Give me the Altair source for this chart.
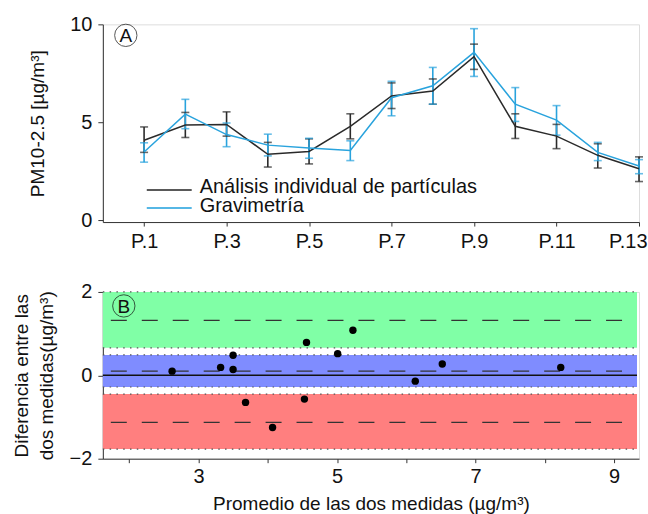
import altair as alt
import pandas as pd

# ---------------- data ----------------
sites = ["P.1", "P.2", "P.3", "P.4", "P.5", "P.6", "P.7", "P.8", "P.9", "P.10", "P.11", "P.12", "P.13"]
site_idx = list(range(1, 14))
series_names = ["Análisis individual de partículas", "Gravimetría"]

indiv_mean = [4.08, 4.86, 4.89, 3.36, 3.51, 4.79, 6.34, 6.59, 8.35, 4.79, 4.29, 3.31, 2.62]
indiv_lo = [3.46, 4.22, 4.29, 2.71, 2.87, 4.15, 5.70, 5.92, 7.70, 4.17, 3.65, 2.66, 1.97]
indiv_hi = [4.76, 5.50, 5.53, 3.97, 4.15, 5.43, 7.01, 7.21, 8.99, 5.43, 4.89, 3.90, 3.23]

grav_mean = [3.48, 5.41, 4.37, 3.83, 3.68, 3.56, 6.25, 6.86, 8.57, 5.92, 5.11, 3.46, 2.76]
grav_lo = [2.96, 4.67, 3.75, 3.28, 3.16, 3.04, 5.33, 5.92, 7.34, 5.04, 4.34, 3.04, 2.37]
grav_hi = [3.95, 6.17, 4.96, 4.39, 4.18, 4.05, 7.09, 7.80, 9.78, 6.77, 5.85, 3.97, 3.09]

ba_mean = [2.62, 3.32, 3.50, 3.50, 3.68, 4.07, 4.56, 4.53, 5.01, 5.23, 6.13, 6.52, 8.23]
ba_diff = [0.10, 0.19, 0.48, 0.14, -0.65, -1.25, 0.79, -0.57, 0.52, 1.08, -0.14, 0.27, 0.19]

band_lo = [0.66, -0.28, -1.77]
band_hi = [2.00, 0.49, -0.45]
band_center = [1.32, 0.10, -1.13]
band_names = ["Límite superior", "Media", "Límite inferior"]
band_colors = ["#80ffa6", "#7f8cff", "#ff7f7f"]

top_ticks = [1, 3, 5, 7, 9, 11, 13]
top_yticks = [0, 5, 10]
bot_xticks = [2, 3, 4, 5, 6, 7, 8, 9]
bot_yticks = [-2, 0, 2]

# ---------------- layout / style ----------------
FONT = "Liberation Sans"
W = 537
H_TOP = 198
H_BOT = 167
BLACK = "#222222"
BLUE = "#1e9fdc"

rows = []
for name, m, lo, hi in [(series_names[0], indiv_mean, indiv_lo, indiv_hi),
                        (series_names[1], grav_mean, grav_lo, grav_hi)]:
    for i, s in enumerate(sites):
        rows.append({"site": s, "idx": site_idx[i], "serie": name,
                     "mean": m[i], "lo": lo[i], "hi": hi[i]})
df_top = pd.DataFrame(rows)

color_scale = alt.Scale(domain=series_names, range=[BLACK, BLUE])
err_scale = alt.Scale(domain=series_names, range=["#2a2a2a", "#29a3dd"])

x_top = alt.X("idx:Q",
              scale=alt.Scale(domain=[0, 13], nice=False, zero=False),
              axis=alt.Axis(values=top_ticks, title=None,
                            labelExpr="'P.' + datum.value",
                            labelFontSize=20, labelPadding=5, tickSize=4,
                            domainColor="#333333", tickColor="#333333",
                            labelColor="#111111", labelFont=FONT, grid=False,
                            labelFlush=5, labelFlushOffset=8))
y_top = alt.Y("mean:Q",
              scale=alt.Scale(domain=[-0.1, 10], nice=False),
              axis=alt.Axis(values=top_yticks, title="PM10-2.5 [µg/m³]",
                            titleFontSize=19, titleFont=FONT, titleFontWeight="normal",
                            titleX=-65, titleBaseline="middle",
                            labelFontSize=20, labelFont=FONT, labelPadding=6,
                            tickSize=5, domainColor="#333333", tickColor="#333333",
                            labelColor="#111111", titleColor="#111111", grid=False))

base_top = alt.Chart(df_top)

lines = base_top.mark_line(strokeWidth=1.5).encode(
    x=x_top, y=y_top,
    color=alt.Color("serie:N", scale=color_scale, legend=None),
)
err_rules = base_top.mark_rule(strokeWidth=1.6).encode(
    x="idx:Q", y="lo:Q", y2="hi:Q",
    color=alt.Color("serie:N", scale=err_scale, legend=None),
)
err_lo = base_top.mark_tick(thickness=1.6, size=8, orient="horizontal").encode(
    x="idx:Q", y="lo:Q",
    color=alt.Color("serie:N", scale=err_scale, legend=None),
)
err_hi = base_top.mark_tick(thickness=1.6, size=8, orient="horizontal").encode(
    x="idx:Q", y="hi:Q",
    color=alt.Color("serie:N", scale=err_scale, legend=None),
)

one = alt.Data(values=[{"a": 1}])
leg_layers = []
for i, (name, col) in enumerate(zip(series_names, [BLACK, BLUE])):
    ly = 166 + i * 18
    leg_layers.append(alt.Chart(one).mark_rule(color=col, strokeWidth=1.5).encode(
        x=alt.value(44), x2=alt.value(89), y=alt.value(ly)))
    leg_layers.append(alt.Chart(one).mark_text(
        align="left", baseline="middle", font=FONT, fontSize=20, color="#111111").encode(
        x=alt.value(97), y=alt.value(ly - 3 + i * 1), text=alt.value(name)))

circ_a = alt.Chart(one).mark_point(shape="circle", size=500, filled=False,
                                   color="#111111", strokeWidth=1).encode(
    x=alt.value(23), y=alt.value(11))
text_a = alt.Chart(one).mark_text(font=FONT, fontSize=19, color="#111111",
                                  baseline="middle").encode(
    x=alt.value(23), y=alt.value(12), text=alt.value("A"))

top = alt.layer(err_rules, err_lo, err_hi, lines, *leg_layers, circ_a, text_a).properties(
    width=W, height=H_TOP)

# ---------------- bottom panel ----------------
df_pts = pd.DataFrame({"m": ba_mean, "d": ba_diff})
df_band = pd.DataFrame({"name": band_names, "lo": band_lo, "hi": band_hi,
                        "c": band_center})
edges = pd.DataFrame({"e": band_lo + band_hi})

x_bot = alt.X("m:Q", scale=alt.Scale(domain=[1.62, 9.36], nice=False, zero=False),
              axis=alt.Axis(values=bot_xticks, title="Promedio de las dos medidas (µg/m³)",
                            labelExpr="datum.value % 2 == 1 ? datum.label : ''",
                            labelFontSize=20, labelFont=FONT, labelPadding=4, tickSize=4,
                            titleFontSize=19, titleFont=FONT, titleFontWeight="normal",
                            titlePadding=8, titleColor="#111111",
                            domainColor="#333333", tickColor="#333333",
                            labelColor="#111111", grid=False))
y_bot = alt.Y("d:Q", scale=alt.Scale(domain=[-2, 2], nice=False),
              axis=alt.Axis(values=bot_yticks,
                            title=["Diferencia entre las", "dos medidas(µg/m³)"],
                            titleFontSize=19, titleFont=FONT, titleFontWeight="normal",
                            titleX=-81, titleBaseline="middle", titleLineHeight=25,
                            titleColor="#111111",
                            labelFontSize=20, labelFont=FONT, labelPadding=6, tickSize=5,
                            domainColor="#333333", tickColor="#333333",
                            labelColor="#111111", grid=False))

bands = alt.Chart(df_band).mark_rect(opacity=1).encode(
    x=alt.value(0), x2=alt.value(W - 2),
    y=alt.Y("lo:Q", scale=alt.Scale(domain=[-2, 2], nice=False)),
    y2="hi:Q",
    color=alt.Color("name:N", scale=alt.Scale(domain=band_names, range=band_colors),
                    legend=None),
)
dotted = alt.Chart(edges).mark_rule(color="#555555", strokeWidth=1.2,
                                    strokeDash=[1.5, 5.3]).encode(
    x=alt.value(0), x2=alt.value(W - 2), y="e:Q")
dashed = alt.Chart(df_band).mark_rule(color="#333333", strokeWidth=1.3,
                                      strokeDash=[16, 15], strokeDashOffset=-8).encode(
    x=alt.value(0), x2=alt.value(W - 2), y="c:Q")
zero_line = alt.Chart(pd.DataFrame({"z": [0]})).mark_rule(color="#111111",
                                                          strokeWidth=1.5).encode(
    x=alt.value(0), x2=alt.value(W - 2), y="z:Q")
pts = alt.Chart(df_pts).mark_circle(size=55, color="#000000", opacity=1).encode(
    x=x_bot, y=y_bot)

circ_b = alt.Chart(one).mark_point(shape="circle", size=500, filled=False,
                                   color="#111111", strokeWidth=1).encode(
    x=alt.value(21), y=alt.value(14))
text_b = alt.Chart(one).mark_text(font=FONT, fontSize=19, color="#111111",
                                  baseline="middle").encode(
    x=alt.value(21), y=alt.value(15), text=alt.value("B"))

bottom = alt.layer(bands, dotted, dashed, zero_line, pts, circ_b, text_b).properties(
    width=W, height=H_BOT)

chart = alt.vconcat(top, bottom, spacing=29).resolve_scale(
    color="independent"
).properties(
    padding={"left": 12, "top": 13, "right": 0, "bottom": 0}
).configure_view(stroke=None).configure(background="white")

chart.save("out.html", embed_options={"renderer": "svg", "actions": False})
